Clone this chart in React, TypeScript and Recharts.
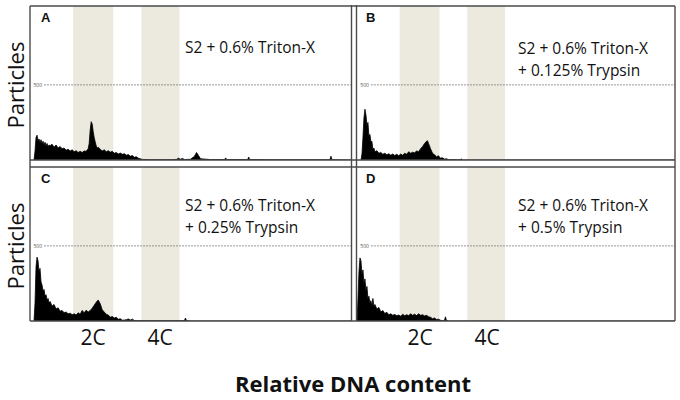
import React from 'react';
import { AreaChart, Area, XAxis, YAxis, ReferenceArea, ReferenceLine } from 'recharts';

// [channel offset, particle count]
const panelA: [number, number][] = [
  [4, 0], [5, 60], [6, 150], [7, 165], [8, 130], [9, 140], [10, 115], [11, 135], [12, 110], [13, 125],
  [14, 100], [15, 118], [16, 95], [17, 110], [18, 90], [19, 100], [20, 95], [22, 105], [24, 85], [26, 100],
  [28, 80], [30, 90], [32, 75], [34, 80], [36, 65], [38, 72], [40, 60], [42, 68], [44, 55], [46, 62],
  [48, 50], [50, 58], [52, 50], [54, 60], [56, 58], [58, 75], [59, 110], [60, 200], [61, 255], [62, 240],
  [63, 190], [64, 150], [65, 120], [66, 95], [67, 80], [68, 85], [70, 72], [72, 60], [74, 68], [76, 55],
  [78, 62], [80, 52], [82, 58], [84, 45], [86, 50], [88, 40], [90, 46], [92, 38], [94, 42], [96, 32],
  [98, 36], [100, 25], [102, 30], [104, 18], [106, 22], [108, 12], [110, 8], [112, 4], [116, 3], [120, 2],
  [140, 2], [146, 4], [148, 12], [150, 5], [152, 10], [154, 3], [160, 5], [164, 25], [166, 50], [168, 30],
  [170, 8], [180, 3], [194, 3], [195, 14], [196, 3], [217, 3], [218, 20], [219, 3], [240, 2], [299, 2],
  [300, 25], [301, 2], [320, 0],
];

const panelB: [number, number][] = [
  [4, 0], [5, 40], [6, 150], [7, 280], [8, 338], [9, 300], [10, 230], [11, 250], [12, 160], [13, 170],
  [14, 120], [15, 125], [16, 70], [17, 80], [18, 55], [20, 62], [22, 45], [24, 50], [26, 38], [28, 45],
  [30, 35], [32, 42], [34, 32], [36, 40], [38, 30], [40, 38], [42, 28], [44, 40], [46, 32], [48, 45],
  [50, 38], [52, 55], [54, 45], [56, 52], [58, 48], [60, 60], [62, 55], [64, 75], [66, 90], [68, 110],
  [70, 125], [71, 128], [72, 110], [74, 75], [76, 45], [78, 35], [80, 22], [82, 28], [84, 12], [86, 15],
  [88, 6], [90, 8], [92, 3], [100, 2], [104, 2], [105, 8], [106, 0], [320, 0],
];

const panelC: [number, number][] = [
  [4, 0], [5, 120], [6, 360], [7, 425], [8, 400], [9, 330], [10, 350], [11, 260], [12, 240], [13, 200],
  [14, 210], [15, 165], [16, 175], [17, 140], [18, 150], [19, 120], [20, 130], [22, 100], [24, 110], [26, 80],
  [28, 88], [30, 65], [32, 70], [34, 55], [36, 60], [38, 48], [40, 52], [42, 42], [44, 48], [46, 40],
  [48, 55], [50, 45], [52, 70], [54, 55], [56, 72], [58, 60], [60, 70], [62, 85], [64, 105], [66, 125],
  [68, 140], [70, 115], [72, 75], [74, 60], [76, 45], [78, 40], [80, 25], [82, 30], [84, 20], [86, 25],
  [88, 12], [90, 15], [92, 5], [96, 8], [98, 14], [100, 6], [102, 12], [104, 3], [110, 2], [150, 2],
  [154, 3], [155, 20], [156, 2], [160, 0], [320, 0],
];

const panelD: [number, number][] = [
  [0, 0], [1, 150], [2, 330], [3, 420], [4, 400], [5, 310], [6, 340], [7, 250], [8, 280], [9, 200],
  [10, 230], [11, 150], [12, 165], [13, 120], [14, 135], [15, 100], [16, 150], [17, 95], [18, 110], [20, 80],
  [22, 90], [24, 60], [26, 70], [28, 50], [30, 58], [32, 42], [34, 48], [36, 38], [38, 44], [40, 35],
  [42, 40], [44, 32], [46, 45], [48, 35], [50, 42], [52, 36], [54, 48], [56, 38], [58, 45], [60, 36],
  [62, 48], [64, 38], [66, 42], [68, 34], [70, 38], [72, 28], [74, 25], [76, 15], [78, 20], [80, 10],
  [82, 12], [84, 5], [86, 3], [88, 4], [89, 28], [90, 4], [92, 0], [320, 0],
];

const band2C: [number, number] = [43, 83];
const band4C: [number, number] = [111, 149];
const gridValue = 500;
const yMax = 1025;
const xMax = 320;

const panelLetters = ['A', 'B', 'C', 'D'];
const panelTexts: string[][] = [
  ['S2 + 0.6% Triton-X'],
  ['S2 + 0.6% Triton-X', '+ 0.125% Trypsin'],
  ['S2 + 0.6% Triton-X', '+ 0.25% Trypsin'],
  ['S2 + 0.6% Triton-X', '+ 0.5% Trypsin'],
];
const bandLabels = ['2C', '4C'];
const yTitle = 'Particles';
const xTitle = 'Relative DNA content';

const FONT = '"Open Sans", "Noto Sans", sans-serif';

const panels = [
  { data: panelA, left: 30, top: 6, width: 321 },
  { data: panelB, left: 357, top: 6, width: 318 },
  { data: panelC, left: 30, top: 167, width: 321 },
  { data: panelD, left: 357, top: 167, width: 318 },
];
const PANEL_H = 154;

function Histogram({ data, width }: { data: [number, number][]; width: number }) {
  const rows = data.map(([x, y]) => ({ x, y }));
  return (
    <AreaChart width={width} height={PANEL_H} data={rows} margin={{ top: 0, right: 0, bottom: 0, left: 0 }}>
      <XAxis dataKey="x" type="number" domain={[0, xMax]} hide allowDataOverflow />
      <YAxis type="number" domain={[0, yMax]} hide allowDataOverflow />
      <ReferenceArea x1={band2C[0]} x2={band2C[1]} fill="#ECE9DE" fillOpacity={1} stroke="none" ifOverflow="hidden" />
      <ReferenceArea x1={band4C[0]} x2={band4C[1]} fill="#ECE9DE" fillOpacity={1} stroke="none" ifOverflow="hidden" />
      <Area
        type="linear"
        dataKey="y"
        stroke="#000"
        strokeWidth={0.8}
        fill="#000"
        fillOpacity={1}
        dot={false}
        activeDot={false}
        isAnimationActive={false}
      />
      <ReferenceLine
        segment={[{ x: 14, y: gridValue }, { x: xMax, y: gridValue }]}
        stroke="#7a7a7a"
        strokeWidth={0.8}
        strokeDasharray="2 1"
        label={{ value: String(gridValue), position: 'left', offset: 2, fontSize: 5, fill: '#555', fontFamily: FONT }}
      />
    </AreaChart>
  );
}

export default function App() {
  const lineColor = '#4a4a4a';
  const lw = 1.4;
  const textStarts = [185, 518, 185, 518];
  const textBase = [53, 54, 211, 211];
  const letterPos = [
    [41, 22],
    [366, 22],
    [41, 183],
    [366, 183],
  ];
  return (
    <div style={{ position: 'absolute', left: 0, top: 0, width: 680, height: 400, background: '#fff' }}>
      {panels.map((p, i) => (
        <div key={i} style={{ position: 'absolute', left: p.left, top: p.top, width: p.width, height: PANEL_H }}>
          <Histogram data={p.data} width={p.width} />
        </div>
      ))}
      <svg width={680} height={400} style={{ position: 'absolute', left: 0, top: 0, pointerEvents: 'none' }}>
        <line x1={30} y1={6} x2={675} y2={6} stroke={lineColor} strokeWidth={lw} />
        <line x1={30} y1={160} x2={675} y2={160} stroke={lineColor} strokeWidth={lw} />
        <line x1={30} y1={167} x2={675} y2={167} stroke={lineColor} strokeWidth={lw} />
        <line x1={30} y1={321} x2={675} y2={321} stroke={lineColor} strokeWidth={lw} />
        <line x1={30} y1={6} x2={30} y2={321} stroke={lineColor} strokeWidth={lw} />
        <line x1={351.5} y1={5} x2={351.5} y2={321} stroke={lineColor} strokeWidth={lw} />
        <line x1={356.5} y1={5} x2={356.5} y2={321} stroke={lineColor} strokeWidth={lw} />
        <line x1={675} y1={6} x2={675} y2={321} stroke={lineColor} strokeWidth={lw} />

        {panelLetters.map((l, i) => (
          <text key={l} x={letterPos[i][0]} y={letterPos[i][1]} fontFamily='"Liberation Sans", Arial, sans-serif' fontWeight="bold" fontSize={13} fill="#111">
            {l}
          </text>
        ))}
        {panelTexts.map((lines, i) => (
          <text key={i} fontFamily={FONT} fontSize={15.5} fill="#111">
            {lines.map((t, j) => (
              <tspan key={j} x={textStarts[i]} y={textBase[i] + j * 22}>
                {t}
              </tspan>
            ))}
          </text>
        ))}
        {[85, 246].map((cy, i) => (
          <text key={i} x={23.5} y={cy} transform={`rotate(-90, 23.5, ${cy})`} textAnchor="middle" fontFamily={FONT} fontSize={22} fill="#111">
            {yTitle}
          </text>
        ))}
        {[[93, 160], [420, 487]].map((xs, i) =>
          xs.map((x, j) => (
            <text key={`${i}-${j}`} x={x} y={345} textAnchor="middle" fontFamily={FONT} fontSize={21} fill="#111">
              {bandLabels[j]}
            </text>
          ))
        )}
        <text x={353} y={392} textAnchor="middle" fontFamily={FONT} fontWeight="bold" fontSize={22} fill="#111">
          {xTitle}
        </text>
      </svg>
    </div>
  );
}
